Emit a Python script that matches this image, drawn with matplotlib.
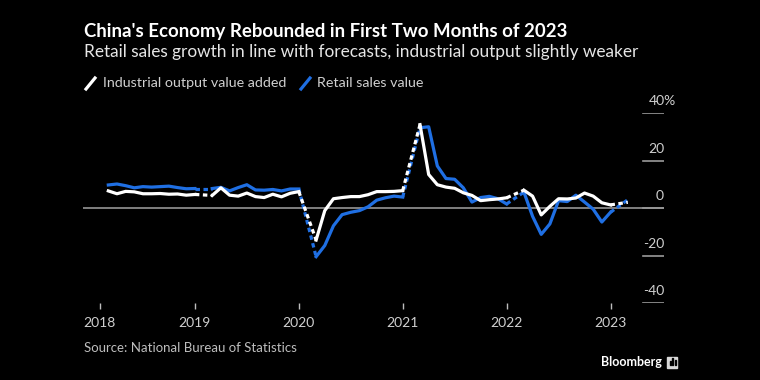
import matplotlib
matplotlib.use("Agg")
import matplotlib.pyplot as plt
from matplotlib.lines import Line2D
from matplotlib.patches import Rectangle

plt.rcParams['font.family'] = ['Lato', 'DejaVu Sans']

# Year-on-year growth, %; Jan-Feb reported together (Jan missing)
months = ["2018-02", "2018-03", "2018-04", "2018-05", "2018-06", "2018-07", "2018-08", "2018-09", "2018-10", "2018-11", "2018-12",
          "2019-02", "2019-03", "2019-04", "2019-05", "2019-06", "2019-07", "2019-08", "2019-09", "2019-10", "2019-11", "2019-12",
          "2020-02", "2020-03", "2020-04", "2020-05", "2020-06", "2020-07", "2020-08", "2020-09", "2020-10", "2020-11", "2020-12",
          "2021-02", "2021-03", "2021-04", "2021-05", "2021-06", "2021-07", "2021-08", "2021-09", "2021-10", "2021-11", "2021-12",
          "2022-02", "2022-03", "2022-04", "2022-05", "2022-06", "2022-07", "2022-08", "2022-09", "2022-10", "2022-11", "2022-12",
          "2023-02"]
industrial = [7.2, 6.0, 7.0, 6.8, 6.0, 6.0, 6.1, 5.8, 5.9, 5.4, 5.7,
              5.3, 8.5, 5.4, 5.0, 6.3, 4.8, 4.4, 5.8, 4.7, 6.2, 6.9,
              -13.5, -1.1, 3.9, 4.4, 4.8, 4.8, 5.6, 6.9, 6.9, 7.0, 7.3,
              35.1, 14.1, 9.8, 8.8, 8.3, 6.4, 5.3, 3.1, 3.5, 3.8, 4.3,
              7.5, 5.0, -2.9, 0.7, 3.9, 3.8, 4.2, 6.3, 5.0, 2.2, 1.3,
              2.4]
retail = [9.7, 10.1, 9.4, 8.5, 9.0, 8.8, 9.0, 9.2, 8.6, 8.1, 8.2,
          8.2, 8.7, 7.2, 8.6, 9.8, 7.6, 7.5, 7.8, 7.2, 8.0, 8.0,
          -20.5, -15.8, -7.5, -2.8, -1.8, -1.1, 0.5, 3.3, 4.3, 5.0, 4.6,
          33.8, 34.2, 17.7, 12.4, 12.1, 8.5, 2.5, 4.4, 4.9, 3.9, 1.7,
          6.7, -3.5, -11.1, -6.7, 3.1, 2.7, 5.4, 2.5, -0.5, -5.9, -1.8,
          3.5]
years = [2018, 2019, 2020, 2021, 2022, 2023]
yticks = [-40, -20, 0, 20, 40]

BLUE = '#1f6fe3'
W, H = 760, 380

# month-end positions in decimal years
xs = [int(m[:4]) + int(m[5:]) / 12 for m in months]

fig = plt.figure(figsize=(7.6, 3.8), dpi=100, facecolor='black')
ax = fig.add_axes([83 / W, 1 - 303 / H, (664 - 83) / W, (303 - 113) / H])
ax.set_facecolor('black')
ax.set_xlim(2018 - 8 / 103.9, 2018 + (664 - 91) / 103.9)
ax.set_ylim(-40, 40)
for s in ax.spines.values():
    s.set_visible(False)

# zero line and right-side grid stubs
ax.axhline(0, color='#8a8a8a', lw=1.3, zorder=1)
for v in yticks:
    ax.axhline(v, xmin=(643 - 83) / (664 - 83), xmax=1, color='#9a9a9a', lw=1.2, zorder=1)
    if v == yticks[-1]:
        ax.text(1.0 + 12 / 581, v + 5, f"{v}%", transform=ax.get_yaxis_transform(),
                ha='right', va='center', color='#cfcfcf', fontsize=10)
    else:
        ax.text(1.0, v + 5, str(v), transform=ax.get_yaxis_transform(), ha='right',
                va='center', color='#cfcfcf', fontsize=10)
ax.set_yticks([])


def draw(values, color, z):
    seg_x, seg_y = [], []
    prev = None
    for x, y, m in zip(xs, values, months):
        if m.endswith('-02') and seg_x:
            ax.plot(seg_x, seg_y, color=color, lw=2.3, solid_joinstyle='round', zorder=z)
            ax.plot([prev[0], x], [prev[1], y], color=color, lw=2.3,
                    linestyle=(0, (1.4, 1.1)), dash_capstyle='butt', zorder=z)
            seg_x, seg_y = [], []
        seg_x.append(x)
        seg_y.append(y)
        prev = (x, y)
    ax.plot(seg_x, seg_y, color=color, lw=2.3, solid_joinstyle='round', zorder=z)


draw(retail, BLUE, 3)
draw(industrial, 'white', 4)

x0 = 2018 + 1 / 12
ax.set_xticks([max(y, x0) for y in years])
ax.set_xticklabels([str(y) for y in years])
ax.tick_params(axis='x', colors='#bdbdbd', labelcolor='#cfcfcf', labelsize=10,
               length=4, width=1, pad=6, direction='out')


def fx(px):
    return px / W


def fy(py):
    return 1 - py / H


fig.text(fx(84), fy(31), "China's Economy Rebounded in First Two Months of 2023",
         color='white', fontsize=13.4, fontweight='bold', va='center', ha='left')
fig.text(fx(84), fy(52), "Retail sales growth in line with forecasts, industrial output slightly weaker",
         color='#e6e6e6', fontsize=12.4, va='center', ha='left')

# legend
fig.add_artist(Line2D([fx(86), fx(95)], [fy(89), fy(78)], color='white', lw=2.3))
fig.text(fx(103), fy(83), "Industrial output value added", color='#d0d0d0', fontsize=10.3,
         va='center', ha='left')
fig.add_artist(Line2D([fx(301), fx(310)], [fy(89), fy(78)], color=BLUE, lw=2.3))
fig.text(fx(317), fy(83), "Retail sales value", color='#d0d0d0', fontsize=10.3,
         va='center', ha='left')

fig.text(fx(84), fy(348), "Source: National Bureau of Statistics", color='#bdbdbd', fontsize=9.5,
         va='center', ha='left')
fig.text(fx(662), fy(362), "Bloomberg", color='white', fontsize=9, fontweight='bold',
         va='center', ha='right')
fig.add_artist(Rectangle((fx(667), fy(368)), 10 / W, 11 / H, color='#d8d8d8'))
for bx, bh in [(669.5, 4), (672, 7), (674.5, 5)]:
    fig.add_artist(Rectangle((fx(bx), fy(365)), 1.2 / W, bh / H, color='black'))

fig.savefig('out.png', dpi=100, facecolor='black')
